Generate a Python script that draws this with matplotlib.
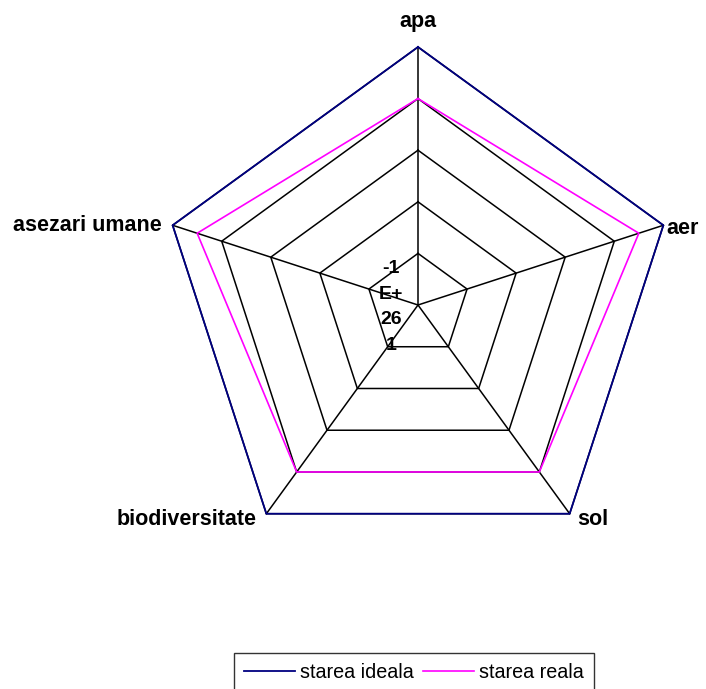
import numpy as np
import matplotlib.pyplot as plt
from matplotlib.lines import Line2D

plt.rcParams['font.family'] = ['Liberation Sans', 'DejaVu Sans']

# axis names, clockwise from the top
categories = ['apa', 'aer', 'sol', 'biodiversitate', 'asezari umane']
starea_ideala = [5, 5, 5, 5, 5]
starea_reala = [4, 4.5, 4, 4, 4.5]
ring_levels = [1, 2, 3, 4, 5]
center_label = '-1\nE+\n26\n1'

n = len(categories)
angles = np.arange(n) * 2 * np.pi / n


def to_xy(values):
    v = np.asarray(values, dtype=float)
    x = v * np.sin(angles)
    y = v * np.cos(angles)
    return np.append(x, x[0]), np.append(y, y[0])


fig = plt.figure(figsize=(7.06, 6.89), dpi=100)
ax = fig.add_axes([0, 0, 1, 1])
scale = 258 / 5.0  # pixels per unit
ax.set_xlim(-418 / scale, (706 - 418) / scale)
ax.set_ylim(-(689 - 305) / scale, 305 / scale)
ax.axis('off')

# pentagon gridlines and spokes
for lvl in ring_levels:
    gx, gy = to_xy([lvl] * n)
    ax.plot(gx, gy, color='black', lw=1.1, zorder=1)
for a in angles:
    ax.plot([0, 5 * np.sin(a)], [0, 5 * np.cos(a)], color='black', lw=1.1, zorder=1)

# series
rx, ry = to_xy(starea_reala)
ax.plot(rx, ry, color='#FF00FF', lw=1.2, zorder=3)
ix, iy = to_xy(starea_ideala)
ax.plot(ix, iy, color='#000080', lw=1.3, zorder=4)

# axis labels
offsets = [(0, 18.5, 'center', 'center'),
           (2.5, -2, 'left', 'center'),
           (5.5, -4.5, 'left', 'center'),
           (-7, -4.5, 'right', 'center'),
           (-8, 0, 'right', 'center')]
for name, a, (dx, dy, ha, va) in zip(categories, angles, offsets):
    ax.annotate(name, (5 * np.sin(a), 5 * np.cos(a)), xytext=(dx, dy),
                textcoords='offset points', ha=ha, va=va,
                fontsize=15.5, fontweight='bold')

# radial tick label at the centre
ax.text(-27 / scale, -2 / scale, center_label, ha='center', va='center',
        multialignment='center', fontsize=14, fontweight='bold',
        linespacing=1.65, zorder=5)

handles = [Line2D([], [], color='#000080', lw=1.3),
           Line2D([], [], color='#FF00FF', lw=1.2)]
leg = fig.legend(handles, ['starea ideala', 'starea reala'], ncol=2,
                 loc='upper left', bbox_to_anchor=(234 / 706, 1 - 653 / 689),
                 fontsize=14.2, frameon=True, fancybox=False, shadow=False,
                 borderpad=0.5, handlelength=2.6, handletextpad=0.25,
                 columnspacing=0.45, borderaxespad=0)
leg.get_frame().set_edgecolor('black')
leg.get_frame().set_linewidth(1.0)

fig.savefig('out.png', dpi=100)
